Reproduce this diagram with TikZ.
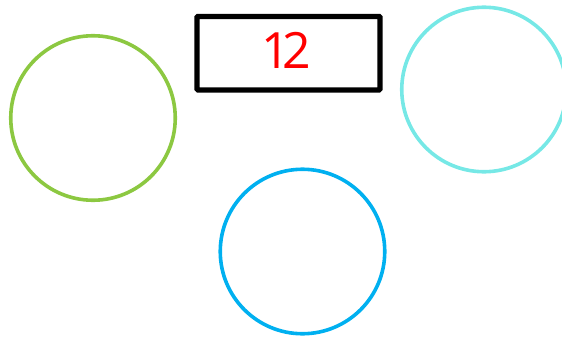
\documentclass[tikz,border=0pt]{standalone}
\usepackage{fontspec}
\setmainfont{Open Sans}
\definecolor{cgreen}{RGB}{140,200,65}
\definecolor{ccyan}{RGB}{118,232,230}
\definecolor{cblue}{RGB}{0,176,240}
\begin{document}
\begin{tikzpicture}[x=1pt,y=-1pt,
  ring/.style={draw=#1,line width=3.6pt,circle,minimum size=164.5pt,inner sep=0pt},
  label box/.style={draw=black,line width=5.3pt,rounded corners=1pt,minimum width=183pt,minimum height=73.5pt,inner sep=0pt},
  num/.style={text=red,inner sep=0pt,font=\fontsize{50}{50}\selectfont}]
\useasboundingbox (0,0) rectangle (562,337);
\node[ring=cgreen] (g) at (93,118) {};
\node[ring=ccyan] (c) at (484,89.5) {};
\node[ring=cblue] (b) at (302.5,251.5) {};
\node[label box] (t) at (288.5,53.2) {};
\node[num] (n) at (286,50.5) {1\kern-8pt2};
\end{tikzpicture}
\end{document}
